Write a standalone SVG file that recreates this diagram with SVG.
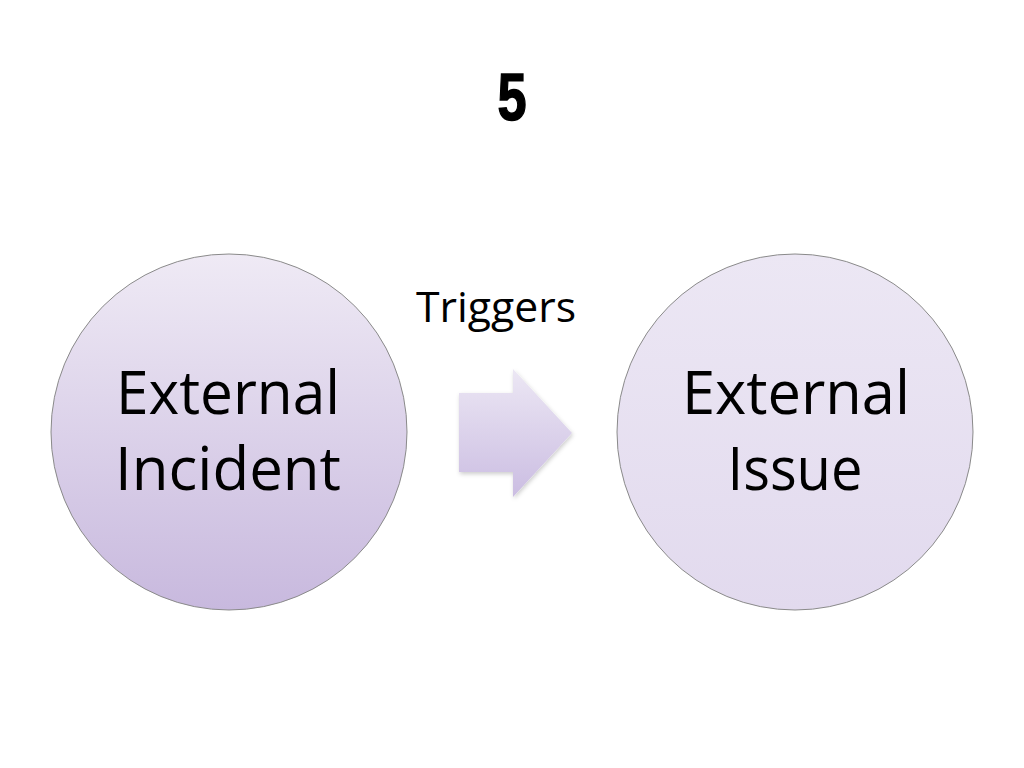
<svg xmlns="http://www.w3.org/2000/svg" width="1024" height="768" viewBox="0 0 1024 768">
<defs>
<linearGradient id="g" x1="0" y1="0" x2="0" y2="1">
<stop offset="0" stop-color="#efeaf5"/>
<stop offset="1" stop-color="#c8b9de"/>
</linearGradient>
<linearGradient id="g2" x1="0" y1="0" x2="0" y2="1">
<stop offset="0" stop-color="#ece7f4"/>
<stop offset="1" stop-color="#e2daee"/>
</linearGradient>
<linearGradient id="ga" x1="0" y1="0" x2="0" y2="1">
<stop offset="0" stop-color="#ece7f4"/>
<stop offset="1" stop-color="#cbbde2"/>
</linearGradient>
<filter id="sh" x="-10%" y="-10%" width="130%" height="130%">
<feDropShadow dx="1" dy="2" stdDev="2" flood-color="#000" flood-opacity="0.2"/>
</filter>
</defs>
<style>
.c{stroke:#8a8a8a;stroke-width:1}
.t{font-family:"Open Sans","Liberation Sans",sans-serif;fill:#000;text-anchor:middle}
.big{font-size:60px}
</style>
<rect width="1024" height="768" fill="#fff"/>
<text transform="translate(512 120) scale(0.78 1)" x="0" y="0" font-family="'Liberation Sans',sans-serif" font-weight="bold" font-size="67" text-anchor="middle" stroke="#000" stroke-width="1.5">5</text>
<g id="node-incident">
<circle class="c" cx="229" cy="432" r="178" fill="url(#g)"/>
<text class="t big" x="228" y="414" textLength="224" lengthAdjust="spacingAndGlyphs">External</text>
<text class="t big" x="228" y="490" textLength="226" lengthAdjust="spacingAndGlyphs">Incident</text>
</g>
<g id="node-issue">
<circle class="c" cx="795" cy="432" r="178" fill="url(#g2)"/>
<text class="t big" x="796" y="414" textLength="228" lengthAdjust="spacingAndGlyphs">External</text>
<text class="t big" x="795" y="490" textLength="135" lengthAdjust="spacingAndGlyphs">Issue</text>
</g>
<g id="connectors">
<path d="M459,393 H513 V369 L572,433 L513,497 V472 H459 Z" fill="url(#ga)" filter="url(#sh)"/>
<text class="t" x="496" y="322" font-size="42" textLength="160" lengthAdjust="spacingAndGlyphs">Triggers</text>
</g>
</svg>
